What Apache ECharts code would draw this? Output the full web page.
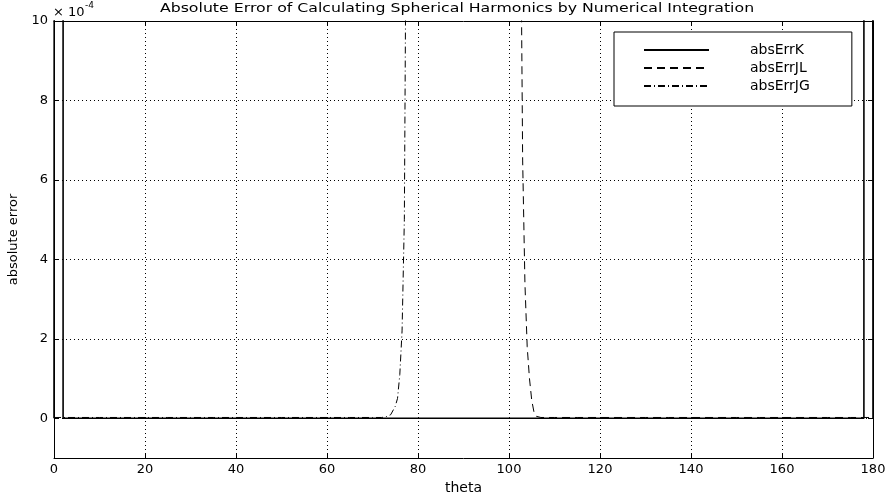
<!DOCTYPE html>
<html>
<head>
<meta charset="utf-8">
<script src="https://cdn.jsdelivr.net/npm/echarts@6/dist/echarts.min.js"></script>
<style>
html,body{margin:0;padding:0;background:#fff;}
#chart{width:894px;height:492px;}
</style>
</head>
<body>
<div id="chart"></div>
<script>
// theta in degrees; errors in units of 1e-4
var theta = [0, 1.9, 2, 5, 10, 15, 20, 25, 30, 35, 40, 45, 50, 55, 60, 65, 70,
  72, 73, 74, 75, 75.5, 76, 76.5, 77, 77.5, 78, 80, 85, 90, 95, 100,
  101, 102, 102.5, 103, 103.5, 104, 104.5, 105, 105.5, 106, 107,
  110, 115, 120, 125, 130, 135, 140, 145, 150, 155, 160, 165, 170, 175, 178, 178.1, 180];

var absErrK = [0, 500, 0.002, 0.002, 0.002, 0.002, 0.002, 0.002, 0.002, 0.002, 0.002, 0.002, 0.002, 0.002, 0.002, 0.002, 0.002,
  0.002, 0.002, 0.002, 0.002, 0.002, 0.002, 0.002, 0.002, 0.002, 0.002, 0.002, 0.002, 0.002, 0.002, 0.002,
  0.002, 0.002, 0.002, 0.002, 0.002, 0.002, 0.002, 0.002, 0.002, 0.002, 0.002,
  0.002, 0.002, 0.002, 0.002, 0.002, 0.002, 0.002, 0.002, 0.002, 0.002, 0.002, 0.002, 0.002, 0.002, 0.002, 500, 0];

var absErrJL = [2000, 1800, 1800, 1500, 1200, 1000, 900, 800, 700, 650, 600, 550, 500, 450, 400, 350, 300,
  280, 270, 260, 250, 245, 240, 235, 230, 225, 220, 200, 170, 140, 110, 80,
  50, 25, 14, 6.5, 3.4, 1.8, 1.0, 0.45, 0.15, 0.05, 0.02,
  0.02, 0.02, 0.02, 0.02, 0.02, 0.02, 0.02, 0.02, 0.02, 0.02, 0.02, 0.02, 0.02, 0.02, 0.02, 0.02, 0.02];

var absErrJG = [0.02, 0.02, 0.02, 0.02, 0.02, 0.02, 0.02, 0.02, 0.02, 0.02, 0.02, 0.02, 0.02, 0.02, 0.02, 0.02, 0.02,
  0.02, 0.04, 0.09, 0.3, 0.5, 1.1, 2.2, 5.0, 15, 60, 250, 600, 900, 1200, 1500,
  1550, 1600, 1620, 1650, 1670, 1700, 1720, 1750, 1770, 1800, 1850,
  1900, 2000, 2100, 2200, 2300, 2400, 2500, 2600, 2700, 2800, 2900, 3000, 3100, 3200, 3300, 3300, 3400];

var seriesNames = ['absErrK', 'absErrJL', 'absErrJG'];
var xTicks = [0, 20, 40, 60, 80, 100, 120, 140, 160, 180];
var yTicks = [0, 2, 4, 6, 8, 10];
var titleText = 'Absolute Error of Calculating Spherical Harmonics by Numerical Integration';

function pairs(vals) {
  return theta.map(function (t, i) { return [t, vals[i]]; });
}

var FONT = 'DejaVu Sans';
var chart = echarts.init(document.getElementById('chart'));

var gridLine = { show: true, lineStyle: { type: [1, 3], color: '#000', width: 1 } };

chart.setOption({
  animation: false,
  backgroundColor: '#fff',
  grid: { left: 54, right: 21, top: 21, bottom: 34, containLabel: false, outerBoundsMode: 'none' },
  graphic: [
    { type: 'text', x: 457, y: 9, scaleX: 1.26, scaleY: 1,
      style: { text: titleText, font: '12.5px "DejaVu Sans"', fill: '#000', textAlign: 'center', textVerticalAlign: 'middle' } },
    { type: 'text', x: 53, y: 13,
      style: { text: '\u00d7 10', font: '13px "DejaVu Sans"', fill: '#000', textAlign: 'left', textVerticalAlign: 'middle' } },
    { type: 'text', x: 85, y: 6,
      style: { text: '-4', font: '9px "DejaVu Sans"', fill: '#000', textAlign: 'left', textVerticalAlign: 'middle' } }
  ],
  legend: {
    data: seriesNames,
    orient: 'vertical',
    left: 614, top: 32,
    padding: [11, 42, 13, 29],
    itemWidth: 65, itemHeight: 14, itemGap: 4,
    backgroundColor: '#fff',
    borderColor: '#000', borderWidth: 1, borderRadius: 0,
    itemStyle: { color: 'rgba(0,0,0,0)', borderWidth: 0, opacity: 0 },
    textStyle: { fontFamily: FONT, fontSize: 14, color: '#000', padding: [0, 0, 0, 36], lineHeight: 14 }
  },
  xAxis: [
    { type: 'value', min: 0, max: 180, interval: 20, position: 'bottom',
      axisLine: { onZero: false, lineStyle: { color: '#000', width: 1 } },
      axisTick: { inside: true, length: 5, lineStyle: { color: '#000' } },
      axisLabel: { color: '#000', fontFamily: FONT, fontSize: 13, margin: 5,
        formatter: function (v) { return xTicks.indexOf(v) >= 0 ? String(v) : ''; } },
      splitLine: gridLine,
      name: 'theta', nameLocation: 'middle', nameGap: 16,
      nameTextStyle: { fontFamily: FONT, fontSize: 14, color: '#000' } },
    { type: 'value', min: 0, max: 180, interval: 20, position: 'top',
      axisLine: { onZero: false, lineStyle: { color: '#000', width: 1 } },
      axisTick: { inside: true, length: 5, lineStyle: { color: '#000' } },
      axisLabel: { show: false }, splitLine: { show: false } }
  ],
  yAxis: [
    { type: 'value', min: -1, max: 10, position: 'left',
      axisLine: { onZero: false, show: true, lineStyle: { color: '#000', width: 1 } },
      axisTick: { show: true, inside: true, length: 5, lineStyle: { color: '#000' }, customValues: yTicks },
      axisLabel: { color: '#000', fontFamily: FONT, fontSize: 13, margin: 6, customValues: yTicks,
        formatter: function (v) { return yTicks.indexOf(Math.round(v * 1000) / 1000) >= 0 ? String(Math.round(v)) : ''; } },
      splitLine: gridLine,
      name: 'absolute error', nameLocation: 'middle', nameGap: 32, nameRotate: 90,
      nameTextStyle: { fontFamily: FONT, fontSize: 13, color: '#000' } },
    { type: 'value', min: -1, max: 10, position: 'right',
      axisLine: { onZero: false, show: true, lineStyle: { color: '#000', width: 1 } },
      axisTick: { show: true, inside: true, length: 5, lineStyle: { color: '#000' }, customValues: yTicks },
      axisLabel: { show: false }, splitLine: { show: false } }
  ],
  series: [
    { name: seriesNames[0], type: 'line', data: pairs(absErrK), symbol: 'none', showSymbol: false, clip: true,
      lineStyle: { color: '#000', width: 1.6, type: 'solid' }, itemStyle: { color: '#000' } },
    { name: seriesNames[1], type: 'line', data: pairs(absErrJL), symbol: 'none', showSymbol: false, clip: true,
      lineStyle: { color: '#000', width: 1, type: [8, 5] }, itemStyle: { color: '#000' } },
    { name: seriesNames[2], type: 'line', data: pairs(absErrJG), symbol: 'none', showSymbol: false, clip: true,
      lineStyle: { color: '#000', width: 1, type: [7, 3, 1, 3] }, itemStyle: { color: '#000' } }
  ]
});
</script>
</body>
</html>
